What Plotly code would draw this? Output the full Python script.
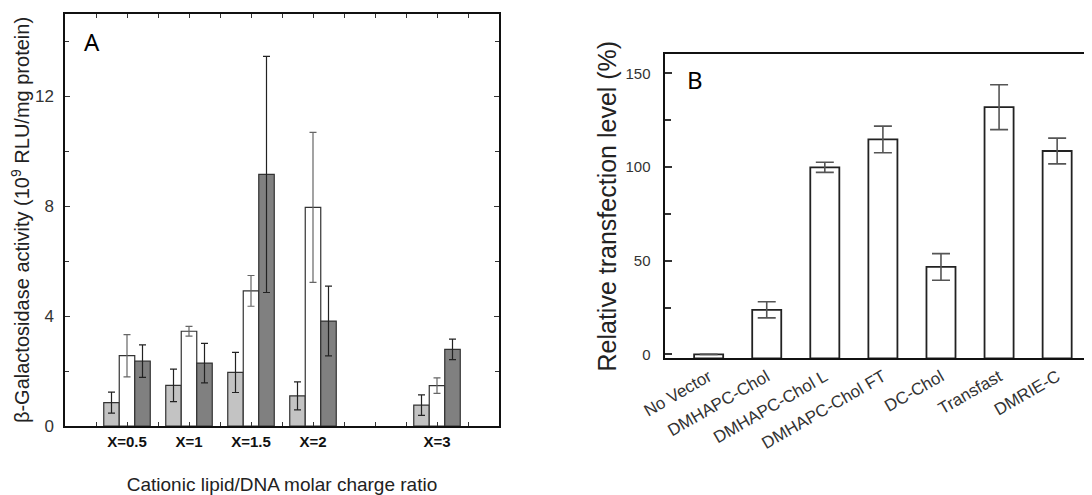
import plotly.graph_objects as go
import numpy as np

# ---------------- Panel A data ----------------
ratios = [0.5, 1, 1.5, 2, 3]
ratio_labels = ["X=0.5", "X=1", "X=1.5", "X=2", "X=3"]
activity_light = [0.85, 1.48, 1.95, 1.10, 0.76]
err_light = [0.38, 0.59, 0.73, 0.51, 0.37]
activity_white = [2.56, 3.45, 4.92, 7.96, 1.47]
err_white = [0.77, 0.18, 0.56, 2.73, 0.28]
activity_dark = [2.36, 2.29, 9.16, 3.82, 2.79]
err_dark = [0.59, 0.72, 4.30, 1.27, 0.37]

# ---------------- Panel B data ----------------
vectors = ["No Vector", "DMHAPC-Chol", "DMHAPC-Chol L", "DMHAPC-Chol FT",
           "DC-Chol", "Transfast", "DMRIE-C"]
transfection = [0.0, 23.8, 99.9, 114.8, 46.7, 132.0, 108.6]
err_transfection = [0.0, 4.3, 2.7, 7.1, 7.1, 12.0, 6.9]

FONT = "Liberation Sans, Arial, sans-serif"
OFF = 8                      # page body margin of the html page
W, H = 1092 - OFF, 495 - OFF

def px_x(p):
    return (p - OFF) / W

def px_y(p):
    return 1 - (p - OFF) / H

fig = go.Figure()

a_series = [
    (activity_light, err_light, "#c3c3c3", "#222222"),
    (activity_white, err_white, "#ffffff", "#666666"),
    (activity_dark, err_dark, "#808080", "#222222"),
]
for i, (vals, errs, fill, ecol) in enumerate(a_series):
    fig.add_trace(go.Bar(
        x=ratios, y=vals, offsetgroup=str(i),
        marker=dict(color=fill, line=dict(color="#333333", width=1.2)),
        error_y=dict(type="data", array=errs, visible=True, color=ecol,
                     thickness=1.2, width=3.5),
        xaxis="x", yaxis="y", showlegend=False,
    ))

YMIN_B = -2.1
fig.add_trace(go.Bar(
    x=vectors, y=[v - YMIN_B for v in transfection], base=YMIN_B,
    width=0.5,
    marker=dict(color="#ffffff", line=dict(color="#222222", width=1.8)),
    error_y=dict(type="data", array=err_transfection, visible=True,
                 color="#555555", thickness=1.6, width=9),
    xaxis="x2", yaxis="y2", showlegend=False,
))

A_XRANGE = [0, 3.5]
A_DOMAIN = [px_x(65), px_x(499)]

fig.update_layout(
    width=W, height=H,
    margin=dict(l=0, r=0, t=0, b=0, autoexpand=False),
    paper_bgcolor="white", plot_bgcolor="white",
    font=dict(family=FONT, color="#333333"),
    barmode="group", bargap=0.25, bargroupgap=0,
    xaxis=dict(
        domain=A_DOMAIN, range=A_XRANGE, automargin=False,
        tick0=0, dtick=0.25, showticklabels=False,
        ticks="inside", ticklen=4, tickcolor="#333333", tickwidth=1,
        showline=True, linecolor="#111111", linewidth=1.5, mirror="ticks",
        showgrid=False, zeroline=False,
        anchor="y",
    ),
    xaxis3=dict(
        domain=A_DOMAIN, range=A_XRANGE, automargin=False,
        overlaying="x", anchor="y", side="bottom",
        tickmode="array", tickvals=ratios,
        ticktext=["<b>%s</b>" % t for t in ratio_labels],
        ticks="", showline=False, showgrid=False, zeroline=False,
        tickfont=dict(size=15, color="#111111"), ticklabelstandoff=5,
        title=dict(text="Cationic lipid/DNA molar charge ratio",
                   font=dict(size=19, color="#222222"), standoff=36),
    ),
    yaxis=dict(
        domain=[px_y(426), px_y(14)], range=[0, 15], automargin=False,
        tickvals=[0, 4, 8, 12], ticks="inside", ticklen=5,
        tickcolor="#333333", tickwidth=1,
        minor=dict(dtick=2, tick0=0, ticks="inside", ticklen=4, tickcolor="#333333"),
        showline=True, linecolor="#111111", linewidth=1.5, mirror="ticks",
        showgrid=False, zeroline=False,
        tickfont=dict(size=17, color="#333333"), ticklabelstandoff=6,
        title=dict(text="β-Galactosidase activity (10<sup>9</sup> RLU/mg protein)",
                   font=dict(size=20, color="#222222"), standoff=8),
        anchor="x",
    ),
    xaxis2=dict(
        domain=[px_x(664.5), 1.0], range=[-0.76, 6.6], type="category",
        automargin=False,
        ticks="", showline=True, linecolor="#111111", linewidth=2, mirror=True,
        showgrid=False, zeroline=False, tickangle=-30,
        tickfont=dict(size=17, color="#333333"),
        anchor="y2",
    ),
    yaxis2=dict(
        domain=[px_y(358.3), px_y(54)], range=[YMIN_B, 160.4], automargin=False,
        tickvals=[0, 50, 100, 150], ticks="inside", ticklen=7,
        tickcolor="#333333", tickwidth=1.5,
        minor=dict(dtick=25, tick0=0, ticks="inside", ticklen=6, tickcolor="#333333"),
        showline=True, linecolor="#111111", linewidth=2, mirror=False,
        showgrid=False, zeroline=False,
        tickfont=dict(size=15, color="#333333"), ticklabelstandoff=9,
        title=dict(text="Relative transfection level (%)",
                   font=dict(size=25, color="#222222"), standoff=2),
        anchor="x2",
    ),
    annotations=[
        dict(text="A", xref="paper", yref="paper", x=px_x(92), y=px_y(41),
             xanchor="center", yanchor="middle", showarrow=False,
             font=dict(family="Noto Sans, sans-serif", size=24, color="#000000")),
        dict(text="B", xref="paper", yref="paper", x=px_x(695), y=px_y(80),
             xanchor="center", yanchor="middle", showarrow=False,
             font=dict(family="Noto Sans, sans-serif", size=24, color="#000000")),
    ],
)

# invisible helper trace so the label axis (xaxis3) is drawn
fig.add_trace(go.Scatter(x=ratios, y=[None] * len(ratios), xaxis="x3", yaxis="y",
                         mode="markers", showlegend=False, hoverinfo="skip"))

fig.write_html("out.html")
